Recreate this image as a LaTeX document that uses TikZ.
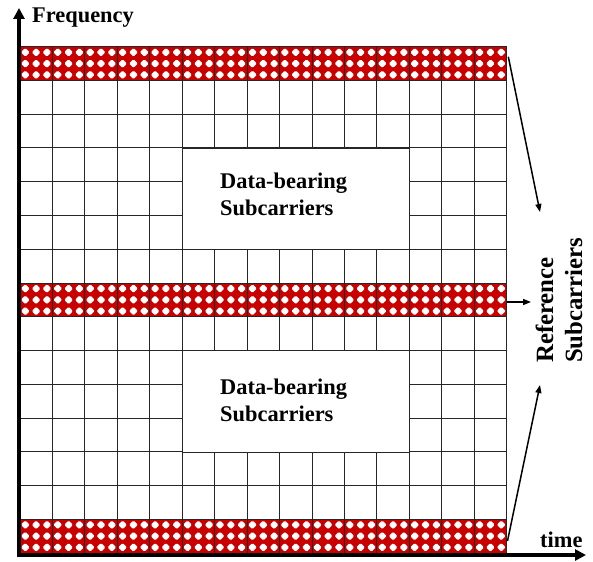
\documentclass[tikz,border=0pt]{standalone}
\usepackage{fontspec}
\setmainfont{Liberation Serif}
\usetikzlibrary{arrows.meta}
\definecolor{refred}{RGB}{200,0,0}
\tikzset{
  gridline/.style={line width=0.9pt, black!85},
  databox/.style={draw=black!85, line width=0.9pt, fill=white, inner sep=0pt, anchor=north west},
  lbl/.style={font=\fontsize{22.4}{26.7}\selectfont\bfseries, inner sep=0pt, align=left},
  reflbl/.style={font=\fontsize{24.8}{29}\selectfont\bfseries, inner sep=0pt, align=left},
  axis/.style={line width=3.5pt, line join=miter, {Triangle[length=11pt,width=11pt]}-{Triangle[length=11pt,width=11pt]}},
  pointer/.style={line width=1.5pt, -{Triangle[length=8pt,width=6pt]}},
}
\newcommand{\refband}[1]{%
  \begin{scope}
    \clip (19.9,#1) rectangle (506.65,{#1+33.75});
    \fill[refred] (19.9,#1) rectangle (506.65,{#1+33.75});
    \foreach \i in {0,...,44}{
      \foreach \j in {0,1,2}{
        \fill[white, rounded corners=1.2pt] ({19.9+(\i+0.5)*10.8167},{#1+(\j+0.5)*11.25})
          ++(0,-4.4) -- ++(4.4,4.4) -- ++(-4.4,4.4) -- ++(-4.4,-4.4) -- cycle;
      }
    }
  \end{scope}}
\begin{document}
\begin{tikzpicture}[x=1pt,y=-1pt]
\useasboundingbox[fill=white] (0,0) rectangle (593,561);
% reference bands
\refband{46.7}
\refband{282.95}
\refband{519.2}
% grid
\foreach \i in {0,...,15}{
  \draw[gridline] ({19.9+\i*32.45},46.7) -- ({19.9+\i*32.45},553.2);
}
\foreach \j in {0,...,15}{
  \draw[gridline] (19.9,{46.7+\j*33.75}) -- (506.65,{46.7+\j*33.75});
}
% data boxes
\node[databox, minimum width=227.15pt, minimum height=101.25pt] (box1) at (182.15,147.95) {};
\node[databox, minimum width=227.15pt, minimum height=101.25pt] (box2) at (182.15,350.45) {};
\node[lbl, anchor=south west] (txt1) at (220,216) {Data-bearing\\Subcarriers};
\node[lbl, anchor=south west] (txt2) at (220,421.5) {Data-bearing\\Subcarriers};
% axes
\coordinate (ytop) at (19,8);
\coordinate (origin) at (19,555);
\coordinate (xend) at (586,555);
\draw[axis] (ytop) -- (origin) -- (xend);
\node[lbl, anchor=base west] (freq) at (32,22.7) {Frequency};
\node[lbl, anchor=base west] (time) at (540,547) {time};
% reference label and pointers
\node[reflbl, rotate=90, anchor=south west] (reflabel) at (582.5,363) {Reference\\Subcarriers};
\coordinate (p1s) at (508.3,56.7);
\coordinate (p1e) at (540,212);
\coordinate (p2s) at (507,302);
\coordinate (p2e) at (531,302);
\coordinate (p3s) at (507.5,541);
\coordinate (p3e) at (540,385);
\draw[pointer] (p1s) -- (p1e);
\draw[pointer] (p2s) -- (p2e);
\draw[pointer] (p3s) -- (p3e);
\end{tikzpicture}
\end{document}
